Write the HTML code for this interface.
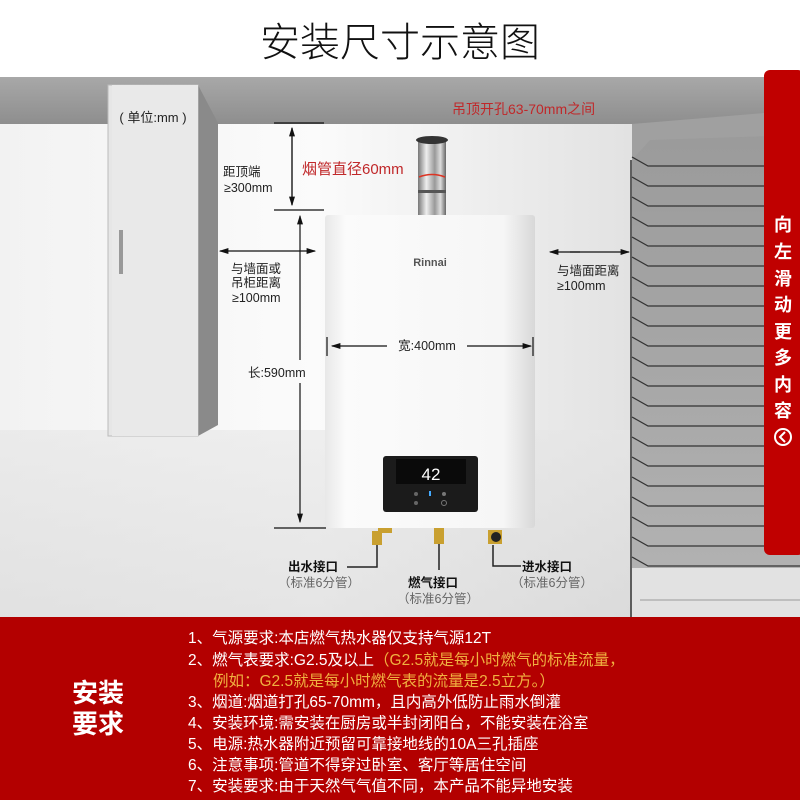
<!DOCTYPE html>
<html><head><meta charset="utf-8"><style>
body{margin:0;width:800px;height:800px;overflow:hidden;background:#fff;font-family:"Liberation Sans","Noto Sans CJK SC",sans-serif}
svg text{font-family:"Liberation Sans","Noto Sans CJK SC",sans-serif}
</style></head><body>
<svg width="800" height="800" viewBox="0 0 800 800" xmlns="http://www.w3.org/2000/svg">
<defs>
<linearGradient id="ceil" x1="0" y1="0" x2="0" y2="1"><stop offset="0" stop-color="#a8a8a8"/><stop offset="1" stop-color="#8e8e8e"/></linearGradient>
<linearGradient id="wall" x1="0" y1="0" x2="1" y2="0"><stop offset="0" stop-color="#f2f2f2"/><stop offset="0.5" stop-color="#fbfbfb"/><stop offset="1" stop-color="#e2e2e2"/></linearGradient>
<linearGradient id="floor" x1="0" y1="0" x2="0" y2="1"><stop offset="0" stop-color="#e6e6e6"/><stop offset="1" stop-color="#d6d6d6"/></linearGradient>
<linearGradient id="heater" x1="0" y1="0" x2="1" y2="0"><stop offset="0" stop-color="#e8e8e8"/><stop offset="0.1" stop-color="#fbfbfb"/><stop offset="0.85" stop-color="#f6f6f6"/><stop offset="1" stop-color="#d8d8d8"/></linearGradient>
<linearGradient id="pipe" x1="0" y1="0" x2="1" y2="0"><stop offset="0" stop-color="#777"/><stop offset="0.3" stop-color="#eee"/><stop offset="0.6" stop-color="#999"/><stop offset="0.8" stop-color="#ddd"/><stop offset="1" stop-color="#666"/></linearGradient>
<linearGradient id="louv" x1="0" y1="0" x2="0" y2="1"><stop offset="0" stop-color="#9a9a9a"/><stop offset="1" stop-color="#b4b4b4"/></linearGradient>
<marker id="ar" markerWidth="8" markerHeight="8" refX="7" refY="4" orient="auto"><path d="M0,1.5 L8,4 L0,6.5 Z" fill="#111"/></marker>
</defs>
<!-- room -->
<rect x="0" y="124" width="632" height="493" fill="url(#wall)"/>
<rect x="0" y="430" width="632" height="187" fill="url(#floor)" opacity="0.6"/>
<rect x="0" y="77" width="764" height="47" fill="url(#ceil)"/>
<!-- right louvre wall -->
<polygon points="632,124 800,124 800,617 632,617" fill="url(#louv)"/>
<polygon points="632,124 800,110 800,135 650,140 632,160" fill="#a0a0a0"/>
<line x1="631" y1="160" x2="631" y2="617" stroke="#333" stroke-width="1.5"/>
<g stroke="#333" stroke-width="1.2" fill="none">
<path d="M632,157 L648,166 L800,166"/><path d="M632,177 L648,186 L800,186"/><path d="M632,197 L648,206 L800,206"/><path d="M632,217 L648,226 L800,226"/><path d="M632,237 L648,246 L800,246"/><path d="M632,257 L648,266 L800,266"/><path d="M632,277 L648,286 L800,286"/><path d="M632,297 L648,306 L800,306"/><path d="M632,317 L648,326 L800,326"/><path d="M632,337 L648,346 L800,346"/><path d="M632,357 L648,366 L800,366"/><path d="M632,377 L648,386 L800,386"/><path d="M632,397 L648,406 L800,406"/><path d="M632,417 L648,426 L800,426"/><path d="M632,437 L648,446 L800,446"/><path d="M632,457 L648,466 L800,466"/><path d="M632,477 L648,486 L800,486"/><path d="M632,497 L648,506 L800,506"/><path d="M632,517 L648,526 L800,526"/><path d="M632,537 L648,546 L800,546"/><path d="M632,557 L648,566 L800,566"/>
</g>
<polygon points="632,568 800,568 800,617 632,617" fill="#e2e2e2"/>
<line x1="640" y1="600" x2="800" y2="600" stroke="#999"/>
<!-- cabinet -->
<polygon points="198,85 218,123 218,425 198,436" fill="#8a8a8a"/>
<rect x="108" y="85" width="90" height="351" fill="#e6e6e6" stroke="#bbb"/>
<rect x="112" y="85" width="86" height="351" fill="#e9e9e9"/>
<rect x="119" y="230" width="4" height="44" fill="#999"/>
<text x="153" y="122" font-size="13" text-anchor="middle" fill="#222">( 单位:mm )</text>
<!-- heater -->
<rect x="418" y="140" width="28" height="78" fill="url(#pipe)"/>
<ellipse cx="432" cy="140" rx="16" ry="4" fill="#333"/>
<rect x="418" y="190" width="28" height="3" fill="#555"/>
<path d="M419,177 Q432,172 445,177" stroke="#d32" stroke-width="1.5" fill="none"/>
<rect x="325" y="215" width="210" height="313" rx="3" fill="url(#heater)"/>
<text x="430" y="266" font-size="11" font-weight="bold" text-anchor="middle" fill="#555">Rinnai</text>
<rect x="383" y="456" width="95" height="56" rx="3" fill="#1b1b1b"/>
<rect x="396" y="459" width="70" height="25" fill="#0a0a0a"/>
<text x="431" y="480" font-size="17" text-anchor="middle" fill="#fff" font-family="Liberation Mono">42</text>
<circle cx="416" cy="494" r="2" fill="#666"/><circle cx="444" cy="494" r="2" fill="#777"/><rect x="429" y="491" width="2" height="5" fill="#4af"/>
<circle cx="416" cy="503" r="2" fill="#666"/><circle cx="444" cy="503" r="2.5" fill="none" stroke="#777"/>
<!-- fittings -->
<rect x="372" y="531" width="10" height="14" fill="#c9a030"/><rect x="378" y="528" width="14" height="5" fill="#c9a030"/>
<rect x="434" y="528" width="10" height="16" fill="#c9a030"/>
<rect x="488" y="530" width="14" height="14" fill="#c9a030"/><circle cx="496" cy="537" r="5" fill="#222"/>
<g stroke="#222" stroke-width="1.5" fill="none">
<path d="M377,545 L377,567 L347,567"/><path d="M439,544 L439,570"/><path d="M493,545 L493,566 L521,566"/>
</g>
<!-- dims -->
<g stroke="#111" stroke-width="1.2" fill="none">
<line x1="274" y1="123" x2="324" y2="123"/><line x1="274" y1="210" x2="324" y2="210"/>
<line x1="292" y1="128" x2="292" y2="205" marker-end="url(#ar)"/><line x1="292" y1="205" x2="292" y2="128" marker-end="url(#ar)"/>
<line x1="300" y1="360" x2="300" y2="216" marker-end="url(#ar)"/><line x1="300" y1="383" x2="300" y2="522" marker-end="url(#ar)"/>
<line x1="274" y1="528" x2="326" y2="528"/>
<line x1="240" y1="251" x2="220" y2="251" marker-end="url(#ar)"/><line x1="240" y1="251" x2="315" y2="251" marker-end="url(#ar)"/>
<line x1="580" y1="252" x2="550" y2="252" marker-end="url(#ar)"/><line x1="570" y1="252" x2="629" y2="252" marker-end="url(#ar)"/>
<line x1="387" y1="346" x2="332" y2="346" marker-end="url(#ar)"/><line x1="467" y1="346" x2="531" y2="346" marker-end="url(#ar)"/>
<line x1="327" y1="337" x2="327" y2="356"/><line x1="533" y1="337" x2="533" y2="356"/>
</g>
<g font-size="12.5" fill="#222">
<text x="223" y="176">距顶端</text><text x="224" y="192">≥300mm</text>
<text x="231" y="273">与墙面或</text><text x="231" y="287">吊柜距离</text><text x="232" y="302">≥100mm</text>
<text x="557" y="275">与墙面距离</text><text x="557" y="290">≥100mm</text>
<text x="248" y="377">长:590mm</text>
<text x="427" y="350" text-anchor="middle">宽:400mm</text>
</g>
<text x="302" y="174" font-size="15" fill="#c0282a">烟管直径60mm</text>
<text x="452" y="114" font-size="14" fill="#c0282a">吊顶开孔63-70mm之间</text>
<g font-size="12.5" fill="#111" font-weight="bold">
<text x="288" y="571">出水接口</text><text x="408" y="587">燃气接口</text><text x="522" y="571">进水接口</text>
</g>
<g font-size="12.5" fill="#666">
<text x="278" y="587">（标准6分管）</text><text x="397" y="603">（标准6分管）</text><text x="511" y="587">（标准6分管）</text>
</g>
<!-- title -->
<text x="400" y="56" font-size="40" text-anchor="middle" fill="#111" font-weight="300">安装尺寸示意图</text>
<!-- side tab -->
<rect x="764" y="70" width="40" height="485" rx="6" fill="#c00000"/>
<g font-size="18" font-weight="bold" fill="#fff" text-anchor="middle">
<text x="783" y="231">向</text><text x="783" y="258">左</text><text x="783" y="285">滑</text><text x="783" y="311">动</text><text x="783" y="338">更</text><text x="783" y="364">多</text><text x="783" y="391">内</text><text x="783" y="417">容</text>
</g>
<circle cx="783" cy="437" r="8" fill="none" stroke="#fff" stroke-width="2"/><path d="M785,432 L780,437 L785,442" stroke="#fff" stroke-width="2" fill="none"/>
<!-- bottom red -->
<rect x="0" y="617" width="800" height="183" fill="#b30000"/>
<g font-size="26" font-weight="bold" fill="#fff"><text x="72" y="702">安装</text><text x="72" y="733">要求</text></g>
<g font-size="15.5" fill="#fff">
<text x="188" y="643">1、气源要求:本店燃气热水器仅支持气源12T</text>
<text x="188" y="665">2、燃气表要求:G2.5及以上<tspan fill="#f0b040">（G2.5就是每小时燃气的标准流量，</tspan></text>
<text x="213" y="686" fill="#f0b040">例如：G2.5就是每小时燃气表的流量是2.5立方。）</text>
<text x="188" y="707">3、烟道:烟道打孔65-70mm，且内高外低防止雨水倒灌</text>
<text x="188" y="728">4、安装环境:需安装在厨房或半封闭阳台，不能安装在浴室</text>
<text x="188" y="749">5、电源:热水器附近预留可靠接地线的10A三孔插座</text>
<text x="188" y="770">6、注意事项:管道不得穿过卧室、客厅等居住空间</text>
<text x="188" y="791">7、安装要求:由于天然气气值不同，本产品不能异地安装</text>
</g>
</svg>
</body></html>
